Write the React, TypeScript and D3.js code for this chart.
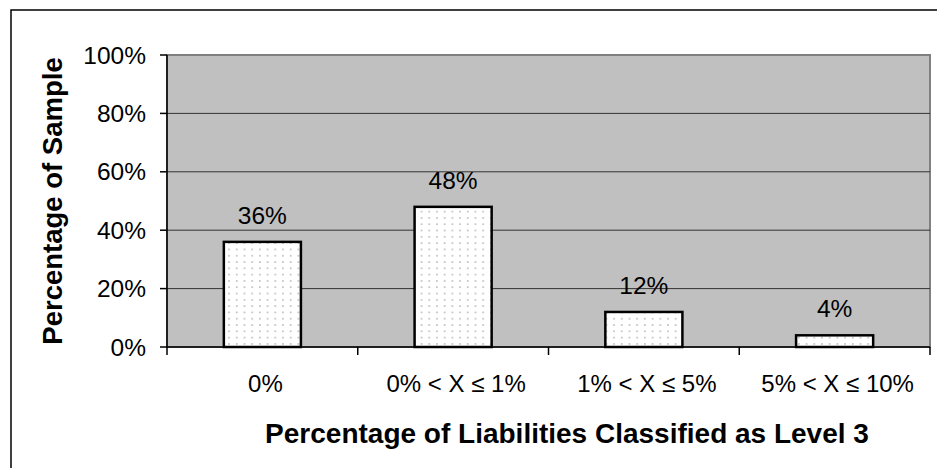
import React from "react";
import * as d3 from "d3";

const categories = ["0%", "0% < X ≤ 1%", "1% < X ≤ 5%", "5% < X ≤ 10%"];
const values = [0.36, 0.48, 0.12, 0.04];
const yTicks = [0, 0.2, 0.4, 0.6, 0.8, 1.0];
const xTitle = "Percentage of Liabilities Classified as Level 3";
const yTitle = "Percentage of Sample";

const W = 937;
const H = 468;
const plot = { left: 167, right: 930, top: 55, bottom: 347 };
const FONT = "'Liberation Sans', Arial, Helvetica, sans-serif";

export default function App() {
  const x = d3
    .scaleBand<string>()
    .domain(categories)
    .range([plot.left, plot.right])
    .paddingInner(0.596)
    .paddingOuter(0.298);
  const xb = d3.scaleBand<string>().domain(categories).range([plot.left, plot.right]);
  const y = d3.scaleLinear().domain([0, 1]).range([plot.bottom, plot.top]);
  const fmt = d3.format(".0%");
  const boundaries = d3.range(categories.length + 1).map((i) => plot.left + i * xb.step());

  return (
    <svg
      width={W}
      height={H}
      style={{ position: "absolute", left: 0, top: 0, background: "#fff" }}
      fontFamily={FONT}
    >
      <defs>
        <pattern id="dots" width={7.7} height={6.3} patternUnits="userSpaceOnUse" x={2} y={1}>
          <rect width={7.7} height={6.3} fill="#fff" />
          <rect x={3} y={2} width={1.5} height={1.5} fill="#b0b0b0" />
        </pattern>
      </defs>
      <rect x={11} y={10} width={1000} height={600} fill="#fff" stroke="#000" strokeWidth={1.5} />
      <rect
        x={plot.left}
        y={plot.top}
        width={plot.right - plot.left}
        height={plot.bottom - plot.top}
        fill="#c0c0c0"
        stroke="#808080"
        strokeWidth={2}
      />
      {yTicks.slice(1, -1).map((t) => (
        <line key={t} x1={plot.left} x2={plot.right} y1={y(t)} y2={y(t)} stroke="#333" strokeWidth={1} />
      ))}
      {categories.map((c, i) => (
        <g key={c}>
          <rect
            x={x(c)}
            y={y(values[i])}
            width={x.bandwidth()}
            height={plot.bottom - y(values[i])}
            fill="url(#dots)"
            stroke="#000"
            strokeWidth={2.5}
          />
          <text
            x={(x(c) as number) + x.bandwidth() / 2}
            y={y(values[i]) - 18}
            textAnchor="middle"
            fontSize={24.5}
            fill="#000"
          >
            {fmt(values[i])}
          </text>
          <text
            x={(xb(c) as number) + xb.bandwidth() / 2 + 3}
            y={383}
            textAnchor="middle"
            dominantBaseline="central"
            fontSize={24}
          >
            {c}
          </text>
        </g>
      ))}
      {/* axes */}
      <line x1={plot.left} x2={plot.left} y1={plot.top} y2={plot.bottom} stroke="#000" strokeWidth={1.5} />
      <line x1={plot.left} x2={plot.right} y1={plot.bottom} y2={plot.bottom} stroke="#000" strokeWidth={1.5} />
      {yTicks.map((t) => (
        <g key={t}>
          <line x1={plot.left - 7} x2={plot.left} y1={y(t)} y2={y(t)} stroke="#000" strokeWidth={1.5} />
          <text x={146} y={y(t)} textAnchor="end" dominantBaseline="central" fontSize={24.5}>
            {fmt(t)}
          </text>
        </g>
      ))}
      {boundaries.map((b, i) => (
        <line key={i} x1={b} x2={b} y1={plot.bottom} y2={plot.bottom + 8} stroke="#000" strokeWidth={1.5} />
      ))}
      <text x={567} y={433} textAnchor="middle" dominantBaseline="central" fontSize={28} fontWeight="bold">
        {xTitle}
      </text>
      <text
        transform={`translate(52,201) rotate(-90)`}
        textAnchor="middle"
        dominantBaseline="central"
        fontSize={27.5}
        fontWeight="bold"
      >
        {yTitle}
      </text>
    </svg>
  );
}
